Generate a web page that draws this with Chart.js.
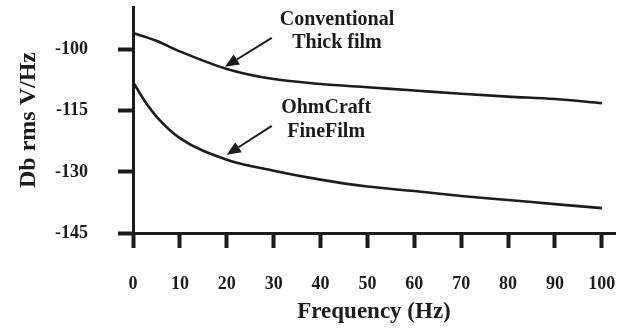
<!DOCTYPE html>
<html>
<head>
<meta charset="utf-8">
<title>Noise vs frequency</title>
<script src="https://cdn.jsdelivr.net/npm/chart.js@4/dist/chart.umd.min.js"></script>
<style>
    html, body {
        margin: 0;
        padding: 0;
        background: #ffffff;
    }
    #chartWrap {
        width: 626px;
        height: 328px;
    }
</style>
</head>
<body>
<div id="chartWrap"><canvas id="noiseChart"></canvas></div>
<script>
const freqHz = [0, 2.5, 5, 10, 20, 30, 40, 50, 60, 70, 80, 90, 100];
const thickFilm = [-95.9, -96.8, -97.8, -100.4, -104.7, -107.2, -108.4, -109.2, -110.0, -110.8, -111.5, -112.1, -113.1];
const fineFilm = [-107.9, -112.6, -116.4, -121.7, -127.0, -129.7, -131.9, -133.6, -134.7, -135.9, -136.9, -137.9, -138.9];
const xTickValues = [0, 10, 20, 30, 40, 50, 60, 70, 80, 90, 100];
const yTickValues = [-145, -130, -115, -100];

// callouts: text lines and arrows, given in data units
const callouts = [
    { lines: ["Conventional", "Thick film"], x: 43.5, y: [-92.7, -98.3], from: [29.6, -97.1], to: [19.6, -104.2] },
    { lines: ["OhmCraft", "FineFilm"], x: 41.2, y: [-114.3, -120.2], from: [29.6, -118.7], to: [20.0, -125.8] },
];

const ink = "#1c1c1c";
const serif = "'Liberation Serif', 'Times New Roman', serif";

const calloutPlugin = {
    id: "callouts",
    afterDraw(chart) {
        const { ctx, scales } = chart;
        const xs = scales.x;
        const ys = scales.y;
        ctx.save();
        ctx.fillStyle = ink;
        ctx.strokeStyle = ink;
        ctx.font = "bold 20px " + serif;
        ctx.textAlign = "center";
        ctx.textBaseline = "middle";
        callouts.forEach((c) => {
            c.lines.forEach((line, i) => {
                ctx.fillText(line, xs.getPixelForValue(c.x), ys.getPixelForValue(c.y[i]));
            });
            const x1 = xs.getPixelForValue(c.from[0]);
            const y1 = ys.getPixelForValue(c.from[1]);
            const x2 = xs.getPixelForValue(c.to[0]);
            const y2 = ys.getPixelForValue(c.to[1]);
            const angle = Math.atan2(y2 - y1, x2 - x1);
            const headLen = 14;
            const headHalf = 6;
            const bx = x2 - headLen * Math.cos(angle);
            const by = y2 - headLen * Math.sin(angle);
            ctx.lineWidth = 2;
            ctx.beginPath();
            ctx.moveTo(x1, y1);
            ctx.lineTo(bx, by);
            ctx.stroke();
            ctx.beginPath();
            ctx.moveTo(x2, y2);
            ctx.lineTo(bx + headHalf * Math.sin(angle), by - headHalf * Math.cos(angle));
            ctx.lineTo(bx - headHalf * Math.sin(angle), by + headHalf * Math.cos(angle));
            ctx.closePath();
            ctx.fill();
        });
        ctx.restore();
    },
};

function toPoints(values) {
    return values.map((v, i) => ({ x: freqHz[i], y: v }));
}

document.addEventListener("DOMContentLoaded", () => {
    const canvas = document.getElementById("noiseChart");

    new Chart(canvas, {
        type: "line",
        data: {
            datasets: [
                {
                    label: "Conventional Thick film",
                    data: toPoints(thickFilm),
                    borderColor: ink,
                    borderWidth: 2.6,
                    pointRadius: 0,
                    cubicInterpolationMode: "monotone",
                },
                {
                    label: "OhmCraft FineFilm",
                    data: toPoints(fineFilm),
                    borderColor: ink,
                    borderWidth: 2.6,
                    pointRadius: 0,
                    cubicInterpolationMode: "monotone",
                },
            ],
        },
        options: {
            responsive: true,
            maintainAspectRatio: false,
            animation: false,
            layout: {
                padding: { top: 7, right: 11, left: 0, bottom: 0 },
            },
            plugins: {
                legend: { display: false },
                tooltip: { enabled: false },
            },
            scales: {
                x: {
                    type: "linear",
                    min: 0,
                    max: 102.8,
                    afterBuildTicks: (scale) => {
                        scale.ticks = xTickValues.map((v) => ({ value: v }));
                    },
                    afterFit: (scale) => {
                        scale.height = 95;
                        scale.paddingLeft = 0;
                        scale.paddingRight = 0;
                    },
                    grid: {
                        drawOnChartArea: false,
                        drawTicks: true,
                        tickLength: 15,
                        tickWidth: 4,
                        tickColor: ink,
                    },
                    border: {
                        display: true,
                        width: 3,
                        color: ink,
                    },
                    ticks: {
                        color: ink,
                        padding: 26,
                        maxRotation: 0,
                        font: { family: serif, size: 18, weight: "bold" },
                    },
                    title: {
                        display: true,
                        text: "Frequency (Hz)",
                        color: ink,
                        padding: { top: 0, bottom: 2 },
                        font: { family: serif, size: 23, weight: "bold" },
                    },
                },
                y: {
                    type: "linear",
                    min: -145,
                    max: -89.5,
                    afterBuildTicks: (scale) => {
                        scale.ticks = yTickValues.map((v) => ({ value: v }));
                    },
                    afterFit: (scale) => {
                        scale.width = 133;
                        scale.paddingTop = 0;
                        scale.paddingBottom = 0;
                    },
                    grid: {
                        drawOnChartArea: false,
                        drawTicks: true,
                        tickLength: 15,
                        tickWidth: 4,
                        tickColor: ink,
                    },
                    border: {
                        display: true,
                        width: 3,
                        color: ink,
                    },
                    ticks: {
                        color: ink,
                        padding: 30,
                        font: { family: serif, size: 18, weight: "bold" },
                    },
                    title: {
                        display: true,
                        text: "Db rms V/Hz",
                        color: ink,
                        padding: { top: 14, bottom: 0 },
                        font: { family: serif, size: 24, weight: "bold" },
                    },
                },
            },
        },
        plugins: [calloutPlugin],
    });
});
</script>
</body>
</html>
